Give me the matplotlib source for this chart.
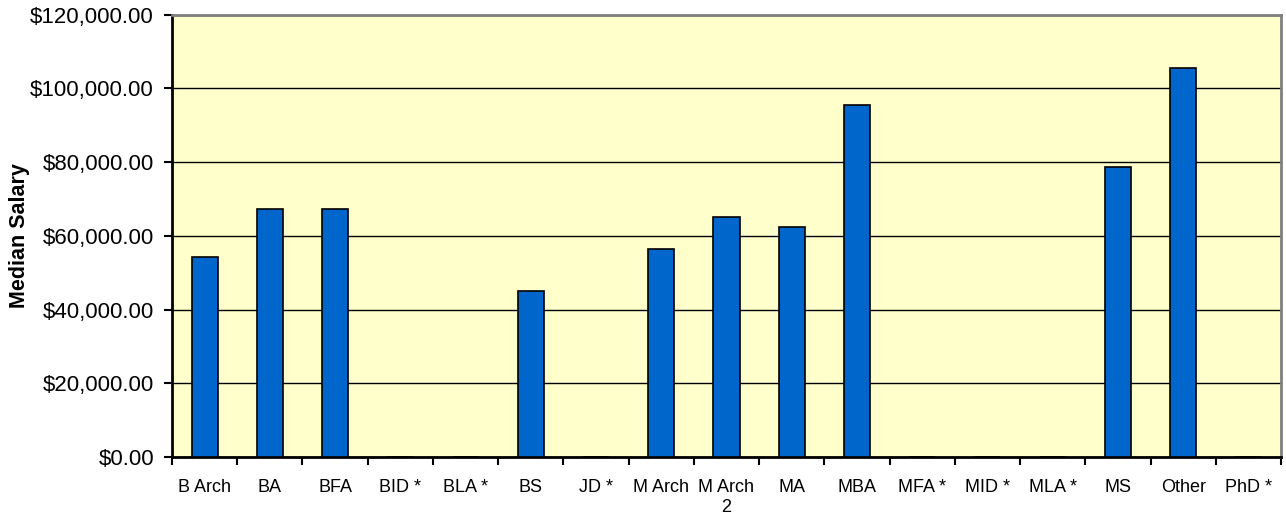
import matplotlib
matplotlib.use("Agg")
import matplotlib.pyplot as plt
import numpy as np
from matplotlib.ticker import FuncFormatter, FixedLocator

categories = ["B Arch", "BA", "BFA", "BID *", "BLA *", "BS", "JD *", "M Arch",
              "M Arch\n2", "MA", "MBA", "MFA *", "MID *", "MLA *", "MS", "Other", "PhD *"]
median_salary = [54200, 67300, 67300, 0, 0, 45000, 0, 56400,
                 65100, 62400, 95600, 0, 0, 0, 78700, 105500, 0]
y_ticks = [0, 20000, 40000, 60000, 80000, 100000, 120000]

plt.rcParams['font.family'] = ['Liberation Sans', 'DejaVu Sans']

fig = plt.figure(figsize=(12.86, 5.17), dpi=100)
ax = fig.add_axes([172/1286, 60/517, 1109/1286, 442.3/517])
ax.set_facecolor('#FFFFCC')

x = np.arange(len(categories))
ax.bar(x, median_salary, width=0.4, color='#0066CC', edgecolor='black',
       linewidth=1.2, zorder=3)

ax.set_xlim(-0.5, len(categories) - 0.5)
ax.set_ylim(0, 120000)
ax.set_yticks(y_ticks)
ax.yaxis.set_major_formatter(FuncFormatter(lambda v, p: "${:,.2f}".format(v)))
ax.grid(axis='y', color='black', linewidth=1.0, zorder=1)

# x ticks at category boundaries, labels at centers
ax.xaxis.set_major_locator(FixedLocator(np.arange(len(categories) + 1) - 0.5))
ax.xaxis.set_major_formatter(FuncFormatter(lambda v, p: ""))
ax.xaxis.set_minor_locator(FixedLocator(x))
ax.set_xticklabels(categories, minor=True)
ax.tick_params(axis='x', which='major', length=6, width=1.5, direction='out', color='black')
ax.tick_params(axis='x', which='minor', length=0, pad=16, labelsize=13)
ax.tick_params(axis='y', length=6, width=1.5, direction='out', pad=7, labelsize=16)

for lab in ax.get_xticklabels(minor=True):
    lab.set_horizontalalignment('center')
    lab.set_multialignment('center')

ax.set_ylabel("Median Salary", fontsize=15.5, fontweight='bold')
ax.yaxis.set_label_coords(-0.128, 0.5)

for side in ['left', 'bottom']:
    ax.spines[side].set_color('black')
    ax.spines[side].set_linewidth(2)
for side in ['top', 'right']:
    ax.spines[side].set_color('#808080')
    ax.spines[side].set_linewidth(2)

fig.savefig("out.png", dpi=100, facecolor='white')
